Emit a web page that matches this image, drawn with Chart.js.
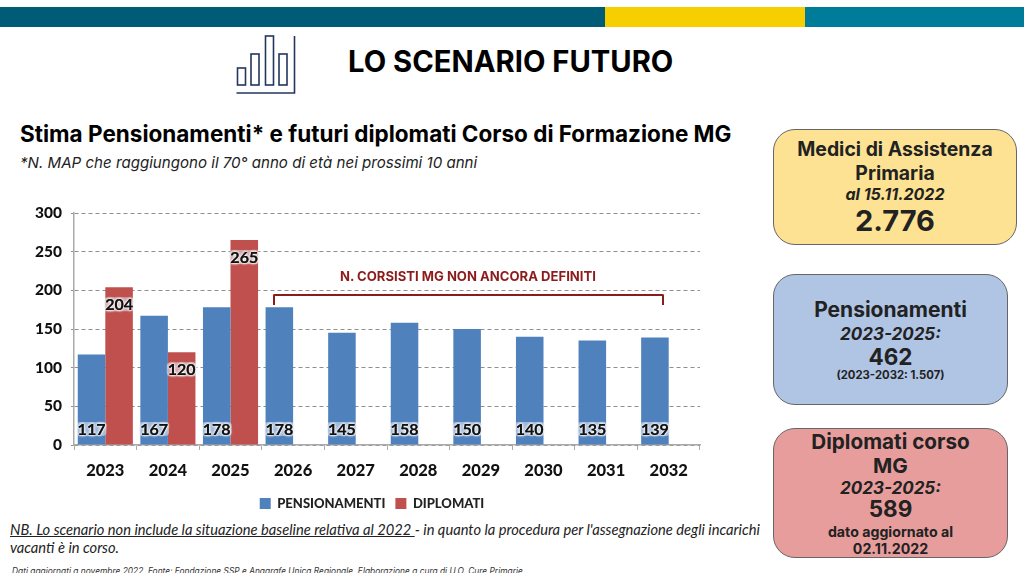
<!DOCTYPE html>
<html lang="it">
<head>
<meta charset="utf-8">
<title>Lo scenario futuro</title>
<script src="https://cdn.jsdelivr.net/npm/chart.js@4"></script>
<style>
  html, body { margin: 0; padding: 0; background: #fff; }
  body { width: 1024px; height: 573px; position: relative; overflow: hidden; font-family: Inter, sans-serif; color: #000; }
  .abs { position: absolute; white-space: nowrap; }
  .band { position: absolute; top: 7px; height: 20px; }
  #chart-wrap { position: absolute; left: 0; top: 190px; width: 720px; height: 330px; }
  .card { position: absolute; box-sizing: border-box; border: 1px solid #666; text-align: center; color: #222; font-weight: 700; white-space: nowrap; }
  .card div { position: absolute; left: 0; right: 0; }
  .it { font-style: italic; }
  .note { font-family: Lato, sans-serif; font-size: 14.7px; line-height: 18px; color: #222; font-style: italic; }
</style>
</head>
<body>
<div class="band" style="left:0;width:605px;background:#005b76"></div>
<div class="band" style="left:605px;width:200px;background:#f7cf00"></div>
<div class="band" style="left:805px;width:219px;background:#007c9b"></div>

<svg class="abs" style="left:234px;top:32px" width="64" height="64" fill="none" stroke="#24365f" stroke-width="1.6">
  <rect x="3.5" y="36" width="8" height="17"/>
  <rect x="17" y="22" width="8" height="31"/>
  <rect x="31.5" y="4" width="8" height="49"/>
  <rect x="45" y="22" width="8" height="31"/>
  <path d="M60.5 4 V61 H2.5"/>
</svg>

<div class="abs" style="left:348px;top:44px;font-size:29.2px;font-weight:700;line-height:36px">LO SCENARIO FUTURO</div>
<div class="abs" style="left:20px;top:120px;font-size:22.5px;font-weight:700;line-height:28px">Stima Pensionamenti* e futuri diplomati Corso di Formazione MG</div>
<div class="abs it" style="left:20px;top:152px;font-size:15.1px;line-height:22px;color:#222">*N. MAP che raggiungono il 70° anno di età nei prossimi 10 anni</div>

<div id="chart-wrap"><canvas id="chart"></canvas></div>

<div class="abs" style="left:340px;top:268px;font-size:13.1px;font-weight:700;color:#8c1c1c;line-height:16px">N. CORSISTI MG NON ANCORA DEFINITI</div>
<div class="abs" style="left:273px;top:294px;width:387px;height:9px;border:2.5px solid #8c1c1c;border-bottom:none;border-radius:2px 2px 0 0"></div>

<div class="abs note" style="left:10px;top:520px"><span style="text-decoration:underline">NB. Lo scenario non include la situazione baseline relativa al 2022 </span>- in quanto la procedura per l'assegnazione degli incarichi</div>
<div class="abs note" style="left:10px;top:538px">vacanti è in corso.</div>
<div class="abs it" style="left:12px;top:566px;font-size:8.4px;line-height:10px;color:#333">Dati aggiornati a novembre 2022. Fonte: Fondazione SSP e Anagrafe Unica Regionale. Elaborazione a cura di U.O. Cure Primarie</div>

<div class="card" style="left:773px;top:129px;width:244px;height:116px;background:#fde293;border-radius:22px">
  <div style="top:7px;font-size:19.4px;line-height:24px">Medici di Assistenza</div>
  <div style="top:31px;font-size:19.4px;line-height:24px">Primaria</div>
  <div class="it" style="top:54px;font-size:16px;line-height:20px">al 15.11.2022</div>
  <div style="top:74px;font-size:29px;line-height:34px">2.776</div>
</div>
<div class="card" style="left:773px;top:274px;width:235px;height:131px;background:#b0c4e4;border-radius:22px">
  <div style="top:22px;font-size:21px;line-height:26px">Pensionamenti</div>
  <div class="it" style="top:49px;font-size:17px;line-height:20px">2023-2025:</div>
  <div style="top:68px;font-size:22.5px;line-height:28px">462</div>
  <div style="top:93px;font-size:11.3px;line-height:14px">(2023-2032: 1.507)</div>
</div>
<div class="card" style="left:773px;top:428px;width:235px;height:130px;background:#e89d9d;border-radius:22px">
  <div style="top:1px;font-size:20.7px;line-height:24px">Diplomati corso</div>
  <div style="top:25px;font-size:20.7px;line-height:24px">MG</div>
  <div class="it" style="top:49px;font-size:17px;line-height:20px">2023-2025:</div>
  <div style="top:67px;font-size:22.5px;line-height:26px">589</div>
  <div style="top:94px;font-size:14.2px;line-height:17px">dato aggiornato al</div>
  <div style="top:111px;font-size:14.2px;line-height:17px">02.11.2022</div>
</div>

<script>
  /* ── Dati ── */
  const categories = ['2023','2024','2025','2026','2027','2028','2029','2030','2031','2032'];
  const pensionamenti = [117,167,178,178,145,158,150,140,135,139];
  const diplomati = [204,120,265,null,null,null,null,null,null,null];
  const yTicks = [0,50,100,150,200,250,300];

  const labelFont = '700 16px Lato, sans-serif';

  /* ── Etichette con alone chiaro ── */
  const haloLabels = {
    id: 'haloLabels',
    afterDatasetsDraw(chart) {
      const { ctx } = chart;
      const base = chart.scales.y.getPixelForValue(0);
      ctx.save();
      ctx.font = labelFont;
      ctx.textAlign = 'center';
      ctx.textBaseline = 'middle';
      chart.data.datasets.forEach((ds, i) => {
        chart.getDatasetMeta(i).data.forEach((bar, j) => {
          const v = ds.data[j];
          if (v === null) return;
          const y = i === 0 ? base - 16 : bar.y + 17;
          const txt = String(v);
          const w = ctx.measureText(txt).width;
          ctx.fillStyle = 'rgba(225,232,242,0.55)';
          ctx.beginPath();
          ctx.roundRect(bar.x - w / 2 - 1, y - 7, w + 2, 14, 4);
          ctx.fill();
          ctx.shadowColor = 'rgba(255,255,255,0.95)';
          ctx.shadowBlur = 3;
          ctx.fillStyle = '#111';
          for (let k = 0; k < 3; k++) ctx.fillText(txt, bar.x, y + 0.5);
          ctx.shadowBlur = 0;
        });
      });
      ctx.restore();
    }
  };

  /* sposta la legenda sul centro del riferimento, l'asse y occupa piu spazio a sinistra */
  const legendShift = {
    id: 'legendShift',
    afterLayout(chart) {
      chart.legend.left += 6;
      chart.legend.right += 6;
    }
  };

  new Chart(document.getElementById('chart'), {
    type: 'bar',
    data: {
      labels: categories,
      datasets: [
        { label: 'PENSIONAMENTI', data: pensionamenti, backgroundColor: '#4f81bd' },
        { label: 'DIPLOMATI', data: diplomati, backgroundColor: '#c0504d' }
      ]
    },
    options: {
      responsive: true,
      maintainAspectRatio: false,
      animation: false,
      layout: { padding: { left: 32, right: 20, top: 23, bottom: 0 } },
      datasets: { bar: { categoryPercentage: 0.88, barPercentage: 1 } },
      plugins: {
        tooltip: { enabled: false },
        legend: {
          position: 'bottom',
          labels: {
            boxWidth: 11, boxHeight: 11, padding: 10, color: '#222',
            font: { family: 'Lato', weight: '900', size: 13 }
          }
        }
      },
      scales: {
        x: {
          afterFit: s => { s.height = 42; },
          grid: { drawOnChartArea: false, color: '#aaa', tickLength: 5 },
          border: { color: '#aaa', width: 1.5 },
          ticks: { color: '#111', padding: 11, font: { family: 'Lato', weight: '900', size: 16.5 } }
        },
        y: {
          min: 0,
          max: 300,
          afterFit: s => { s.width = 42; },
          afterBuildTicks: s => { s.ticks = yTicks.map(value => ({ value })); },
          grid: { color: '#8f8f8f', tickLength: 3, tickBorderDash: [4, 3] },
          border: { color: '#aaa', width: 1.5, dash: [4, 3] },
          ticks: { color: '#111', padding: 9, font: { family: 'Lato', weight: '900', size: 15.5 } }
        }
      }
    },
    plugins: [haloLabels, legendShift]
  });
</script>
</body>
</html>
